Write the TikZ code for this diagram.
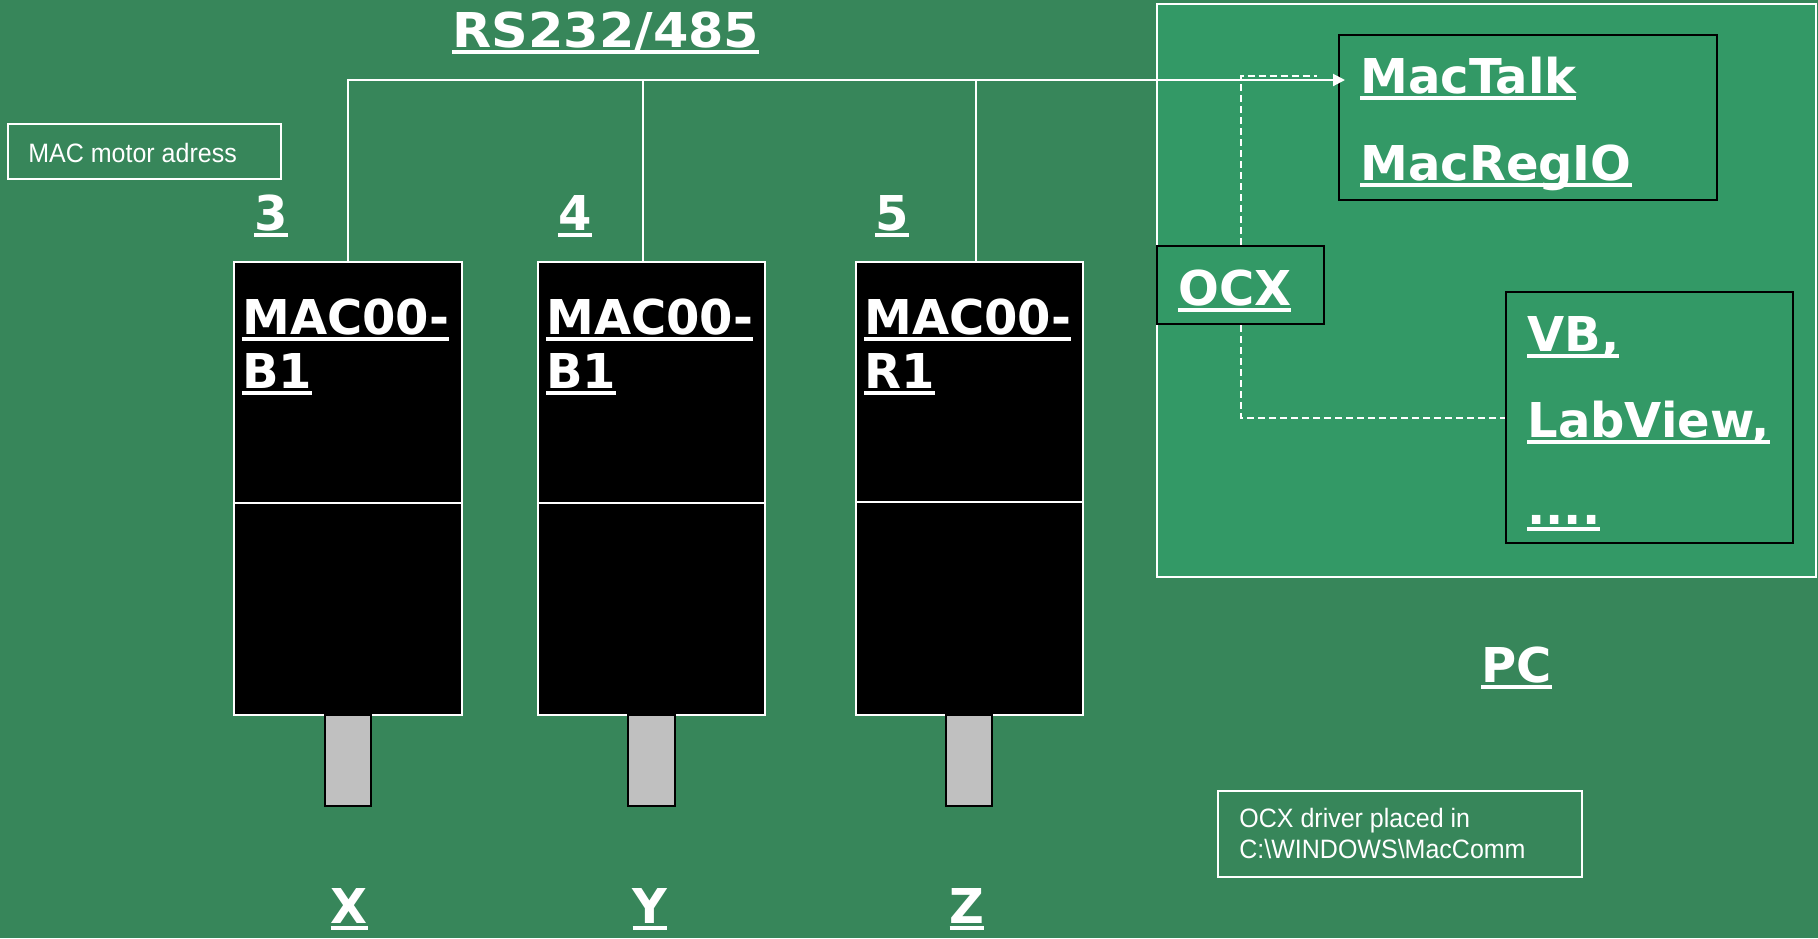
\documentclass[tikz,border=0pt]{standalone}
\usepackage{fontspec}
\setmainfont{DejaVu Sans}
\newfontfamily\arialfont{Liberation Sans}[FakeStretch=0.94]
\usetikzlibrary{arrows.meta,fit}
\definecolor{bg}{RGB}{55,134,90}
\definecolor{pcfill}{RGB}{51,153,102}
\definecolor{shaftgray}{RGB}{192,192,192}
\newcommand\undl[1]{\setbox0\hbox{#1}\rlap{\rule[-0.146em]{\wd0}{0.083em}}\box0}
\begin{document}
\begin{tikzpicture}[x=0.5pt,y=-0.5pt,
  box/.style={inner sep=0pt, line width=1pt},
  motor/.style={box, draw=white, fill=black},
  shaft/.style={box, draw=black, fill=shaftgray},
  big/.style={text=white, font=\fontsize{24pt}{27pt}\selectfont\bfseries, inner sep=0pt, anchor=base west},
  small/.style={text=white, font=\arialfont\fontsize{13.3pt}{15.5pt}\selectfont, inner sep=0pt, anchor=base west},
  wire/.style={draw=white, line width=1pt},
  dashline/.style={draw=white, line width=1pt, dash pattern=on 3.5pt off 2pt}
]
\useasboundingbox (0,0) rectangle (1818,938);
\fill[bg] (0,0) rectangle (1818,938);

% PC area
\node[box, fit={(1157,4) (1816,577)}, draw=white, fill=pcfill] (pc) {};
\node[box, fit={(1339,35) (1717,200)}, draw=black] (mactalk) {};
\node[box, fit={(1157,246) (1324,324)}, draw=black] (ocx) {};
\node[box, fit={(1506,292) (1793,543)}, draw=black] (vb) {};

% info boxes
\node[box, fit={(8,124) (281,179)}, draw=white] (addrbox) {};
\node[box, fit={(1218,791) (1582,877)}, draw=white] (drvbox) {};

% dashed links
\coordinate (dashend) at (1317,76);
\draw[dashline] (ocx.north) -- (ocx.north |- dashend) -- (dashend);
\draw[dashline] (ocx.south) |- (vb.west);

% motors
\node[motor, fit={(234,262) (462,715)}] (m1) {};
\node[motor, fit={(538,262) (765,715)}] (m2) {};
\node[motor, fit={(856,262) (1083,715)}] (m3) {};
\draw[wire] (m1.west |- 0,503) -- (m1.east |- 0,503);
\draw[wire] (m2.west |- 0,503) -- (m2.east |- 0,503);
\draw[wire] (m3.west |- 0,502) -- (m3.east |- 0,502);
\node[shaft, fit={(325,715) (371,806)}] (s1) {};
\node[shaft, fit={(628,715) (675,806)}] (s2) {};
\node[shaft, fit={(946,715) (992,806)}] (s3) {};

% bus
\coordinate (busend) at (1345,80);
\draw[wire, -{Triangle[length=6pt,width=6pt]}] (m1.north) |- (busend);
\draw[wire] ([xshift=-4.25pt]m2.north) -- ([xshift=-4.25pt]m2.north |- busend);
\draw[wire] ([xshift=3.25pt]m3.north) -- ([xshift=3.25pt]m3.north |- busend);

% texts
\node[big] (rs) at (452,47) {\scalebox{1.06}[1]{\undl{RS232/485}}};
\node[small] (addrtext) at (28,162) {MAC motor adress};
\node[small] (drv1) at (1239,827) {OCX driver placed in};
\node[small] (drv2) at (1239,858) {C:\textbackslash WINDOWS\textbackslash MacComm};

\node[big] (a3) at (254,230) {\undl{3}};
\node[big] (a4) at (558,230) {\undl{4}};
\node[big] (a5) at (875,230) {\undl{5}};

\node[big] (m1a) at (242,334) {\undl{MAC00-}};
\node[big] (m1b) at (242,388) {\undl{B1}};
\node[big] (m2a) at (546,334) {\undl{MAC00-}};
\node[big] (m2b) at (546,388) {\undl{B1}};
\node[big] (m3a) at (864,334) {\undl{MAC00-}};
\node[big] (m3b) at (864,388) {\undl{R1}};

\node[big] (t1) at (1360,93) {\undl{MacTalk}};
\node[big] (t2) at (1360,180) {\undl{MacRegIO}};
\node[big] (t3) at (1178,305) {\undl{OCX}};
\node[big] (t4) at (1527,351) {\undl{VB,}};
\node[big] (t5) at (1527,437) {\undl{LabView,}};
\node[big] (t6) at (1527,524) {\undl{....}};
\node[big] (pclabel) at (1481,682) {\undl{PC}};

\node[big, anchor=base] (lx) at (349,923) {\undl{X}};
\node[big, anchor=base] (ly) at (650,923) {\undl{Y}};
\node[big, anchor=base] (lz) at (967,923) {\undl{Z}};
\end{tikzpicture}
\end{document}
